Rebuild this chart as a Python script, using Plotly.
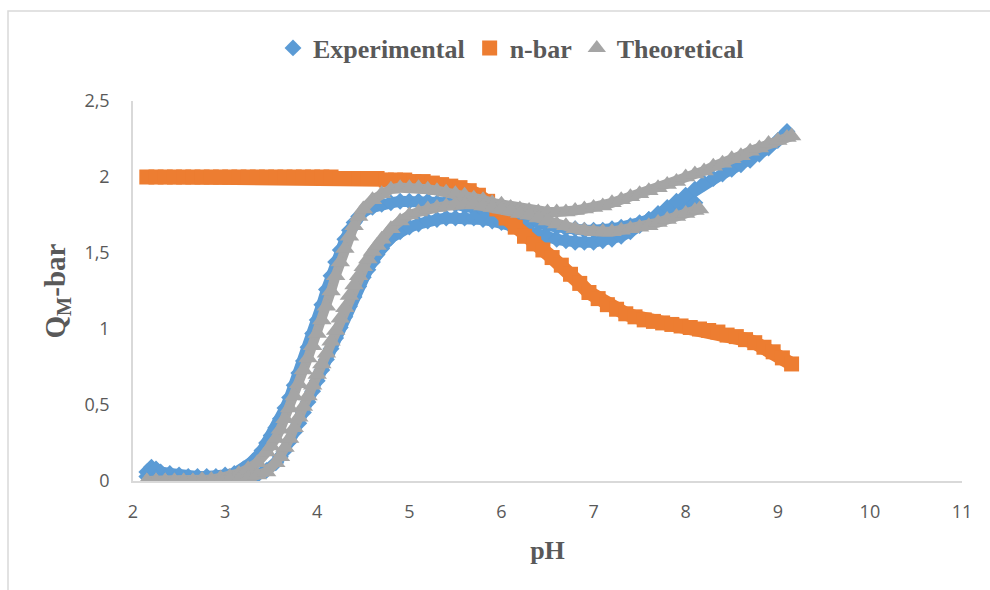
import plotly.graph_objects as go

# ---- data: pH against Q_M-bar (two titration branches per series) ----
pH_exp_1 = [2.15, 2.2, 2.25, 2.3, 2.4, 2.5, 2.6, 2.7, 2.8, 2.9, 3.0, 3.1, 3.2, 3.3, 3.4,
            3.45, 3.5, 3.55, 3.6, 3.65, 3.7, 3.75, 3.8, 3.85, 3.9, 3.95, 4.0, 4.05, 4.1,
            4.15, 4.2, 4.25, 4.3, 4.35, 4.4, 4.45, 4.5, 4.6, 4.7, 4.8, 4.9, 5.0, 5.1, 5.2,
            5.3, 5.4, 5.5, 5.6, 5.7, 5.8, 5.9, 6.0, 6.1, 6.2, 6.3, 6.4, 6.5, 6.6, 6.7, 6.8,
            6.9, 7.0, 7.1, 7.2, 7.3, 7.4, 7.5, 7.6, 7.7, 7.8, 7.9, 8.0, 8.1]
q_exp_1 = [0.06, 0.09, 0.08, 0.06, 0.05, 0.04, 0.03, 0.03, 0.03, 0.03, 0.04, 0.05, 0.08, 0.13, 0.20,
           0.25, 0.30, 0.35, 0.41, 0.48, 0.55, 0.63, 0.71, 0.79, 0.88, 0.97, 1.06, 1.16, 1.26,
           1.35, 1.44, 1.52, 1.59, 1.65, 1.70, 1.74, 1.77, 1.80, 1.82, 1.83, 1.84, 1.84, 1.84, 1.84,
           1.83, 1.83, 1.82, 1.81, 1.80, 1.79, 1.77, 1.76, 1.74, 1.73, 1.71, 1.70, 1.68, 1.67, 1.66, 1.66,
           1.65, 1.65, 1.65, 1.66, 1.67, 1.68, 1.70, 1.72, 1.74, 1.76, 1.79, 1.81, 1.83]

pH_exp_2 = [2.15, 2.25, 2.35, 2.45, 2.55, 2.65, 2.75, 2.85, 2.95, 3.05, 3.15, 3.25, 3.35, 3.45,
            3.55, 3.6, 3.65, 3.7, 3.75, 3.8, 3.85, 3.9, 3.95, 4.0, 4.05, 4.1, 4.15, 4.2, 4.25,
            4.3, 4.35, 4.4, 4.45, 4.5, 4.55, 4.6, 4.65, 4.7, 4.75, 4.8, 4.9, 5.0, 5.1, 5.2, 5.3,
            5.4, 5.5, 5.6, 5.7, 5.8, 5.9, 6.0, 6.1, 6.2, 6.3, 6.4, 6.5, 6.6, 6.7, 6.8, 6.9, 7.0,
            7.1, 7.2, 7.3, 7.4, 7.5, 7.6, 7.7, 7.8, 7.9, 8.0, 8.1, 8.2, 8.3, 8.4, 8.5, 8.6, 8.7,
            8.8, 8.9, 9.0, 9.1]
q_exp_2 = [0.03, 0.02, 0.01, 0.01, 0.00, 0.00, -0.01, -0.01, -0.01, -0.01, 0.00, 0.02, 0.04, 0.07,
           0.12, 0.16, 0.20, 0.26, 0.32, 0.38, 0.45, 0.52, 0.59, 0.66, 0.73, 0.80, 0.87, 0.94, 1.01,
           1.08, 1.15, 1.21, 1.28, 1.34, 1.39, 1.44, 1.49, 1.53, 1.57, 1.60, 1.64, 1.67, 1.69, 1.71, 1.72,
           1.73, 1.73, 1.73, 1.73, 1.72, 1.71, 1.70, 1.68, 1.66, 1.64, 1.62, 1.60, 1.59, 1.58, 1.57, 1.57, 1.57,
           1.58, 1.59, 1.61, 1.64, 1.68, 1.72, 1.76, 1.80, 1.84, 1.88, 1.92, 1.96, 1.99, 2.02, 2.05, 2.08, 2.11,
           2.15, 2.19, 2.24, 2.30]

pH_nbar = [2.15, 2.25, 2.35, 2.45, 2.55, 2.65, 2.75, 2.85, 2.95, 3.05, 3.15, 3.25, 3.35, 3.45,
           3.55, 3.65, 3.75, 3.85, 3.95, 4.05, 4.15, 4.25, 4.35, 4.45, 4.55, 4.65, 4.75, 4.85,
           4.95, 5.05, 5.15, 5.25, 5.35, 5.45, 5.55, 5.65, 5.75, 5.85, 5.95, 6.05, 6.15, 6.25,
           6.35, 6.45, 6.55, 6.65, 6.75, 6.85, 6.95, 7.05, 7.15, 7.25, 7.35, 7.45, 7.55, 7.65,
           7.75, 7.85, 7.95, 8.05, 8.15, 8.25, 8.35, 8.45, 8.55, 8.65, 8.75, 8.85, 8.95, 9.05, 9.15]
nbar = [2.00, 2.00, 2.00, 2.00, 2.00, 2.00, 2.00, 2.00, 2.00, 2.00, 2.00, 2.00, 2.00, 2.00,
        2.00, 2.00, 2.00, 2.00, 2.00, 2.00, 2.00, 1.99, 1.99, 1.99, 1.99, 1.99, 1.98, 1.98,
        1.98, 1.97, 1.97, 1.96, 1.95, 1.94, 1.93, 1.91, 1.88, 1.84, 1.79, 1.73, 1.67, 1.61,
        1.56, 1.52, 1.47, 1.42, 1.36, 1.30, 1.24, 1.20, 1.16, 1.13, 1.10, 1.08, 1.06, 1.05,
        1.04, 1.03, 1.02, 1.01, 1.00, 0.99, 0.98, 0.96, 0.95, 0.93, 0.91, 0.88, 0.85, 0.81, 0.77]

pH_theo_1 = [2.15, 2.25, 2.35, 2.45, 2.55, 2.65, 2.75, 2.85, 2.95, 3.05, 3.15, 3.25, 3.35, 3.45,
             3.5, 3.55, 3.6, 3.65, 3.7, 3.75, 3.8, 3.85, 3.9, 3.95, 4.0, 4.05, 4.1, 4.15, 4.2,
             4.25, 4.3, 4.35, 4.4, 4.45, 4.5, 4.6, 4.7, 4.8, 4.9, 5.0, 5.1, 5.2, 5.3, 5.4, 5.5,
             5.6, 5.7, 5.8, 5.9, 6.0, 6.1, 6.2, 6.3, 6.4, 6.5, 6.6, 6.7, 6.8, 6.9, 7.0, 7.1, 7.2,
             7.3, 7.4, 7.5, 7.6, 7.7, 7.8, 7.9, 8.0, 8.1, 8.2, 8.3, 8.4, 8.5, 8.6, 8.7, 8.8, 8.9,
             9.0, 9.1, 9.15]
q_theo_1 = [0.00, 0.00, 0.00, 0.00, 0.00, 0.00, 0.01, 0.01, 0.02, 0.03, 0.05, 0.08, 0.12, 0.19,
            0.23, 0.28, 0.34, 0.41, 0.48, 0.56, 0.64, 0.73, 0.81, 0.89, 0.97, 1.06, 1.15, 1.25, 1.35,
            1.44, 1.53, 1.61, 1.68, 1.74, 1.79, 1.85, 1.89, 1.92, 1.93, 1.93, 1.93, 1.92, 1.91, 1.90, 1.89,
            1.88, 1.86, 1.85, 1.83, 1.82, 1.80, 1.79, 1.78, 1.77, 1.77, 1.77, 1.77, 1.78, 1.79, 1.80, 1.81, 1.83,
            1.85, 1.87, 1.89, 1.91, 1.93, 1.95, 1.97, 2.00, 2.02, 2.04, 2.07, 2.09, 2.12, 2.14, 2.17, 2.19, 2.22,
            2.24, 2.26, 2.27]

pH_theo_2 = [2.15, 2.25, 2.35, 2.45, 2.55, 2.65, 2.75, 2.85, 2.95, 3.05, 3.15, 3.25, 3.35, 3.45,
             3.55, 3.6, 3.65, 3.7, 3.75, 3.8, 3.85, 3.9, 3.95, 4.0, 4.05, 4.1, 4.15, 4.2, 4.25,
             4.3, 4.35, 4.4, 4.45, 4.5, 4.55, 4.6, 4.65, 4.7, 4.8, 4.9, 5.0, 5.1, 5.2, 5.3, 5.4,
             5.5, 5.6, 5.7, 5.8, 5.9, 6.0, 6.1, 6.2, 6.3, 6.4, 6.5, 6.6, 6.7, 6.8, 6.9, 7.0, 7.1,
             7.2, 7.3, 7.4, 7.5, 7.6, 7.7, 7.8, 7.9, 8.0, 8.1, 8.15]
q_theo_2 = [0.00, 0.00, 0.00, 0.00, 0.00, 0.00, 0.00, 0.00, 0.00, 0.01, 0.01, 0.02, 0.04, 0.06,
            0.12, 0.16, 0.22, 0.28, 0.35, 0.42, 0.49, 0.56, 0.63, 0.70, 0.77, 0.84, 0.92, 0.99, 1.07,
            1.14, 1.22, 1.29, 1.35, 1.41, 1.46, 1.51, 1.55, 1.59, 1.66, 1.71, 1.75, 1.77, 1.79, 1.80, 1.81,
            1.82, 1.82, 1.82, 1.81, 1.80, 1.79, 1.78, 1.76, 1.75, 1.73, 1.71, 1.69, 1.68, 1.66, 1.65, 1.64, 1.64,
            1.64, 1.65, 1.66, 1.67, 1.68, 1.70, 1.72, 1.74, 1.76, 1.78, 1.79]

y_tick_vals = [0, 0.5, 1, 1.5, 2, 2.5]
y_tick_text = ["0", "0,5", "1", "1,5", "2", "2,5"]
x_tick_vals = [2, 3, 4, 5, 6, 7, 8, 9, 10, 11]

BLUE, ORANGE, GRAY = "#5B9BD5", "#ED7D31", "#A5A5A5"
TEXT = "#595959"
AXIS = "#D9D9D9"


def join(a, b):
    return list(a) + [None] + list(b)


fig = go.Figure()

series = [
    ("Experimental", join(pH_exp_1, pH_exp_2), join(q_exp_1, q_exp_2), BLUE, "diamond", 13, 11),
    ("n-bar", pH_nbar, nbar, ORANGE, "square", 15, 14),
    ("Theoretical", join(pH_theo_1, pH_theo_2), join(q_theo_1, q_theo_2), GRAY, "triangle-up", 17, 10),
]

for name, xs, ys, col, sym, msize, lw in series:
    # solid band under the markers so the dense point cloud reads as one ribbon
    fig.add_trace(go.Scatter(x=xs, y=ys, mode="lines", showlegend=False, hoverinfo="skip",
                             line=dict(color=col, width=lw), legendgroup=name))
    fig.add_trace(go.Scatter(x=xs, y=ys, mode="markers", name=name, legendgroup=name,
                             marker=dict(symbol=sym, size=msize, color=col,
                                         line=dict(width=0))))

L, R, T, B = 133, 28, 101, 109
pw, ph = 990 - L - R, 590 - T - B

fig.update_layout(
    template="none",
    width=990, height=590,
    margin=dict(l=L, r=R, t=T, b=B, pad=0),
    paper_bgcolor="white", plot_bgcolor="white",
    font=dict(family="Open Sans", size=18, color=TEXT),
    showlegend=True,
    legend=dict(orientation="h", x=(511 - L) / pw, xanchor="center",
                y=(481 - 48) / ph, yanchor="middle",
                font=dict(family="Liberation Serif", size=26, color=TEXT, weight="bold"),
                bgcolor="rgba(0,0,0,0)", itemwidth=30, tracegroupgap=0),
    xaxis=dict(range=[2, 11], tickvals=x_tick_vals, showgrid=False, zeroline=False,
               showline=True, linecolor=AXIS, linewidth=1.5, ticks="",
               ticklabelstandoff=14, automargin=False,
               tickfont=dict(family="Open Sans", size=18, color=TEXT),
               title=dict(text="pH", standoff=18,
                          font=dict(family="Liberation Serif", size=26, color=TEXT, weight="bold"))),
    yaxis=dict(range=[0, 2.5], tickvals=y_tick_vals, ticktext=y_tick_text, showgrid=False,
               zeroline=False, showline=True, linecolor=AXIS, linewidth=1.5, ticks="",
               ticklabelstandoff=18, automargin=False,
               tickfont=dict(family="Open Sans", size=18, color=TEXT),
               title=dict(text="Q<sub>M</sub>-bar", standoff=10,
                          font=dict(family="Liberation Serif", size=29, color=TEXT, weight="bold"))),
    shapes=[dict(type="rect", xref="paper", yref="paper",
                 x0=(8 - L) / pw, x1=1.08, y0=-0.4, y1=(481 - 11) / ph,
                 line=dict(color=AXIS, width=1.5), layer="below")],
)

fig.write_html("out.html")
